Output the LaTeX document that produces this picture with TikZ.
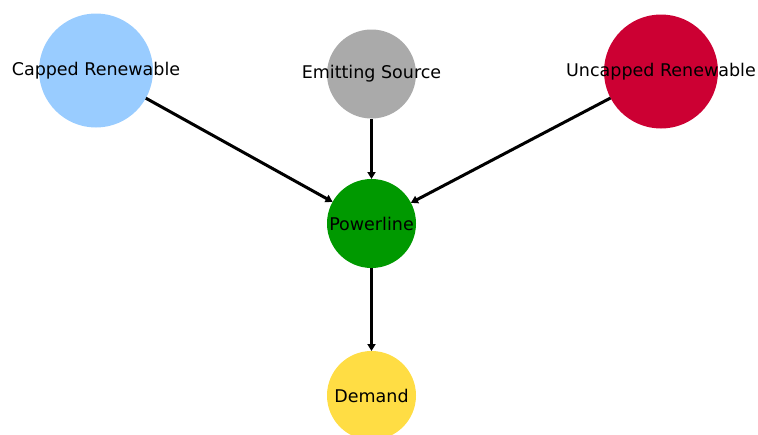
\documentclass[tikz,border=0pt]{standalone}
\usepackage{fontspec}
\setmainfont{DejaVu Sans}
\usetikzlibrary{arrows.meta}
\definecolor{cappedc}{HTML}{99CCFF}
\definecolor{emitc}{HTML}{AAAAAA}
\definecolor{uncappedc}{HTML}{CC0033}
\definecolor{powc}{HTML}{009900}
\definecolor{demc}{HTML}{FFDD44}
\begin{document}
\begin{tikzpicture}[x=1pt,y=-1pt,
  vtx/.style={circle, draw=none, inner sep=0pt, outer sep=0pt},
  big/.style={vtx, minimum size=114pt},
  small/.style={vtx, minimum size=89pt},
  lbl/.style={inner sep=0pt, font=\fontsize{17.5}{20}\selectfont, text=black},
  edge/.style={line width=3pt, -{Triangle[length=7pt,width=8pt]}, black}]
\useasboundingbox (0,0) rectangle (758,434);
\clip (0,0) rectangle (758,434);
\node[big, fill=cappedc] (cap) at (96,70.5) {};
\node[small, fill=emitc] (emit) at (371.5,74) {};
\node[big, fill=uncappedc] (unc) at (661,71.5) {};
\node[small, fill=powc] (pow) at (371.5,223.5) {};
\node[small, fill=demc] (dem) at (371.5,395.5) {};
\node[lbl] (capl) at (cap) {Capped Renewable};
\node[lbl] (emitl) at (emit) {Emitting Source};
\node[lbl] (uncl) at (unc) {Uncapped Renewable};
\node[lbl] (powl) at (pow) {Powerline};
\node[lbl] (deml) at (dem) {Demand};
\draw[edge] (cap) -- (pow);
\draw[edge] (emit) -- (pow);
\draw[edge] (unc) -- (pow);
\draw[edge] (pow) -- (dem);
\end{tikzpicture}
\end{document}
